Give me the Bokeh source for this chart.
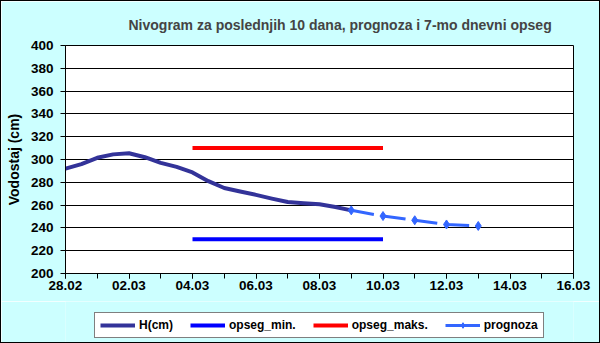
from bokeh.plotting import figure
from bokeh.layouts import column
from bokeh.models import FixedTicker, Legend, LegendItem
from bokeh.embed import file_html
from bokeh.resources import INLINE

title_text = "Nivogram za poslednjih 10 dana, prognoza i 7-mo dnevni opseg"
y_label = "Vodostaj (cm)"
x_tick_days = [0, 2, 4, 6, 8, 10, 12, 14, 16]
x_tick_labels = ["28.02", "02.03", "04.03", "06.03", "08.03", "10.03", "12.03", "14.03", "16.03"]
y_ticks = [200, 220, 240, 260, 280, 300, 320, 340, 360, 380, 400]
legend_labels = ["H(cm)", "opseg_min.", "opseg_maks.", "prognoza"]

# measured water level, half-day readings (days after 28.02)
h_days = [0, 0.5, 1, 1.5, 2, 2.5, 3, 3.5, 4, 4.5, 5, 5.5, 6, 6.5, 7, 7.5, 8, 8.5, 9]
h_values = [292, 296, 301.5, 304.5, 305.5, 302, 297, 293.5, 288.7, 281, 275, 272,
            269, 265.7, 262.7, 261.6, 260.7, 258.4, 255.4]

range_days = [4, 10]
opseg_min = [230, 230]
opseg_maks = [310, 310]

prog_days = [9, 10, 11, 12, 13]
prog_values = [255.4, 250.4, 246.7, 243, 241.7]

FONT = "Liberation Sans"
BG = "#CCFFFF"
C_H, C_MIN, C_MAX, C_PROG = "#333399", "#0000FF", "#FF0000", "#3366FF"

p = figure(width=598, height=300, x_range=(0, 16), y_range=(200, 400),
           output_backend="svg", toolbar_location=None,
           min_border_left=64, min_border_right=26, min_border_top=42, min_border_bottom=28)
p.background_fill_color = "white"
p.border_fill_color = BG
p.outline_line_color = "black"
p.outline_line_width = 1

p.title.text = title_text
p.title.text_font = FONT
p.title.text_font_size = "14px"
p.title.text_font_style = "bold"
p.title.align = "left"
p.title.offset = 63
p.title.standoff = 26

p.xgrid.visible = False
p.ygrid.grid_line_color = "black"
p.ygrid.grid_line_width = 1
p.ygrid.ticker = FixedTicker(ticks=y_ticks)

p.xaxis.ticker = FixedTicker(ticks=x_tick_days, minor_ticks=list(range(0, 17)))
p.xaxis.major_label_overrides = {d: l for d, l in zip(x_tick_days, x_tick_labels)}
p.yaxis.ticker = FixedTicker(ticks=y_ticks)
p.yaxis.axis_label = y_label

for ax in (p.xaxis[0], p.yaxis[0]):
    ax.axis_line_color = "black"
    ax.major_tick_line_color = "black"
    ax.minor_tick_line_color = "black"
    ax.major_tick_in = 0
    ax.major_tick_out = 5
    ax.minor_tick_in = 0
    ax.minor_tick_out = 5
    ax.major_label_text_font = FONT
    ax.major_label_text_font_style = "bold"
    ax.major_label_text_font_size = "13.5px"
    ax.major_label_text_color = "black"
    ax.axis_label_text_font = FONT
    ax.axis_label_text_font_style = "bold"
    ax.axis_label_text_font_size = "14px"
    ax.axis_label_text_color = "black"
p.yaxis.minor_tick_line_color = None
p.yaxis.major_label_standoff = 7
p.yaxis.axis_label_standoff = 6
p.xaxis.major_label_standoff = 2

p.line(h_days, h_values, line_color=C_H, line_width=4, line_join="round", line_cap="round")
p.line(range_days, opseg_min, line_color=C_MIN, line_width=4)
p.line(range_days, opseg_maks, line_color=C_MAX, line_width=4)
p.line(prog_days, prog_values, line_color=C_PROG, line_width=3, line_dash="23 9")
p.scatter(prog_days, prog_values, marker="diamond", size=9, fill_color=C_PROG, line_color=C_PROG)

# legend strip below the chart (its ranges keep the series out of view; only the legend shows)
lf = figure(width=598, height=41, output_backend="svg", toolbar_location=None,
            x_range=(100, 101), y_range=(0, 1),
            x_axis_type=None, y_axis_type=None,
            min_border_left=0, min_border_right=0, min_border_top=0, min_border_bottom=0)
lf.background_fill_color = BG
lf.border_fill_color = BG
lf.outline_line_color = None

lr_h = lf.line(h_days, h_values, line_color=C_H, line_width=4)
lr_min = lf.line(range_days, opseg_min, line_color=C_MIN, line_width=4)
lr_max = lf.line(range_days, opseg_maks, line_color=C_MAX, line_width=4)
lr_pl = lf.line(prog_days, prog_values, line_color=C_PROG, line_width=3)
lr_pm = lf.scatter(prog_days, prog_values, marker="diamond", size=8, fill_color=C_PROG, line_color=C_PROG)
rend_groups = [[lr_h], [lr_min], [lr_max], [lr_pl, lr_pm]]

lg = Legend(items=[LegendItem(label=lab, renderers=rs) for lab, rs in zip(legend_labels, rend_groups)],
            location=(29, 4), orientation="horizontal")
lg.border_line_color = "black"
lg.border_line_width = 1
lg.background_fill_color = "white"
lg.background_fill_alpha = 1
lg.label_text_font = FONT
lg.label_text_font_style = "bold"
lg.label_text_font_size = "12px"
lg.label_text_color = "black"
lg.glyph_width = 35
lg.glyph_height = 14
lg.label_height = 14
lg.padding = 5
lg.spacing = 17
lg.label_standoff = 4
lg.margin = 0
lf.add_layout(lg, "center")

layout = column(p, lf, spacing=0)
layout.styles = {"border": "1px solid black"}

open("out.html", "w").write(file_html(layout, INLINE))
